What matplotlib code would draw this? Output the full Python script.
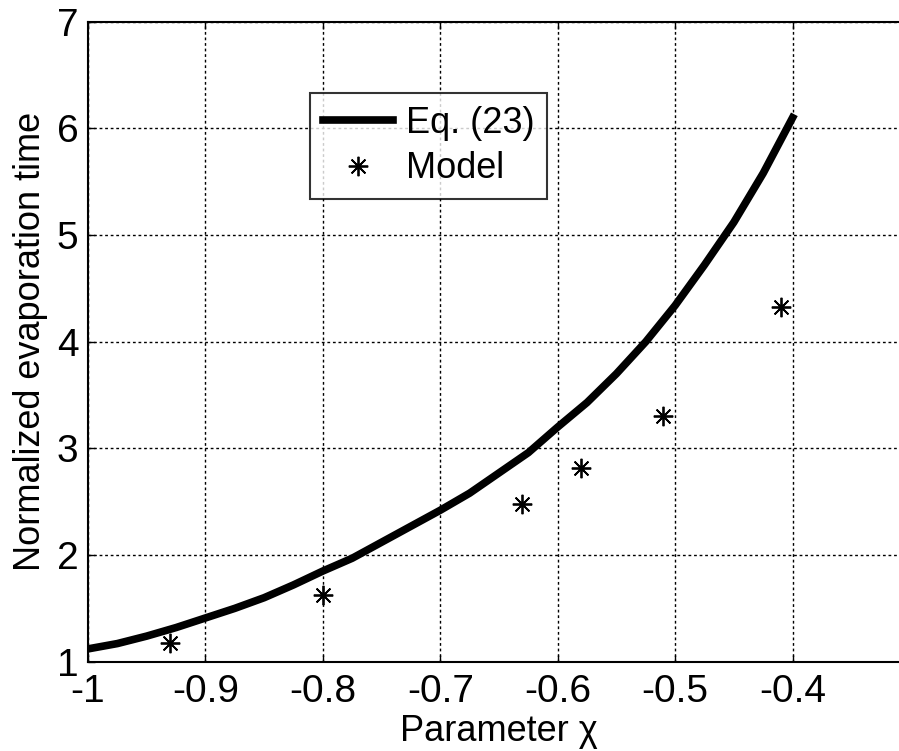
import matplotlib
matplotlib.use("Agg")
import matplotlib.pyplot as plt

# Eq. (23) curve
chi_curve = [-1.00, -0.975, -0.95, -0.925, -0.90, -0.875, -0.85, -0.825, -0.80,
             -0.775, -0.75, -0.725, -0.70, -0.675, -0.65, -0.625, -0.60, -0.575,
             -0.55, -0.525, -0.50, -0.475, -0.45, -0.425, -0.40]
t_curve = [1.12, 1.17, 1.24, 1.32, 1.41, 1.50, 1.60, 1.72, 1.85,
           1.97, 2.12, 2.27, 2.42, 2.58, 2.77, 2.96, 3.20, 3.43,
           3.70, 4.00, 4.34, 4.72, 5.12, 5.58, 6.10]

# Model points
chi_model = [-0.93, -0.80, -0.63, -0.58, -0.51, -0.41]
t_model = [1.18, 1.63, 2.48, 2.82, 3.30, 4.33]

xticks = [-1, -0.9, -0.8, -0.7, -0.6, -0.5, -0.4]
xtick_labels = ["-1", "-0.9", "-0.8", "-0.7", "-0.6", "-0.5", "-0.4"]
yticks = [1, 2, 3, 4, 5, 6, 7]

plt.rcParams['font.family'] = ['Liberation Sans', 'DejaVu Sans']

fig = plt.figure(figsize=(8.99, 7.51), dpi=100)
ax = fig.add_axes([88/899, 1-661.7/751, 822/899, 640/751])

ax.plot(chi_curve, t_curve, color='black', linewidth=5.5, label='Eq. (23)',
        solid_joinstyle='round')
ax.plot(chi_model, t_model, linestyle='none', marker=(8, 2, 0), markersize=14,
        markeredgewidth=1.3, color='black', label='Model')

ax.set_xlim(-1, -0.3)
ax.set_ylim(1, 7)
ax.set_xticks(xticks)
ax.set_xticklabels(xtick_labels)
ax.set_yticks(yticks)

ax.grid(True, color='black', linestyle=(0, (2, 2)), linewidth=1)
ax.tick_params(direction='in', length=5, width=1, labelsize=28, top=True,
               right=False)
ax.tick_params(axis='x', pad=9)
ax.tick_params(axis='y', pad=7)
for s in ['left', 'bottom', 'top']:
    ax.spines[s].set_linewidth(1.5)
ax.spines['right'].set_visible(False)

ax.set_xlabel('Parameter χ', fontsize=26, labelpad=3)
ax.set_ylabel('Normalized evaporation time', fontsize=26, labelpad=6)

leg = ax.legend(loc='upper left', bbox_to_anchor=(0.270, 0.8886), fontsize=26,
                frameon=True, fancybox=False, edgecolor='black',
                handlelength=1.95, borderpad=0.35, labelspacing=0.3,
                handletextpad=0.35, borderaxespad=0)
leg.get_frame().set_linewidth(1.5)

fig.savefig('out.png', dpi=100)
